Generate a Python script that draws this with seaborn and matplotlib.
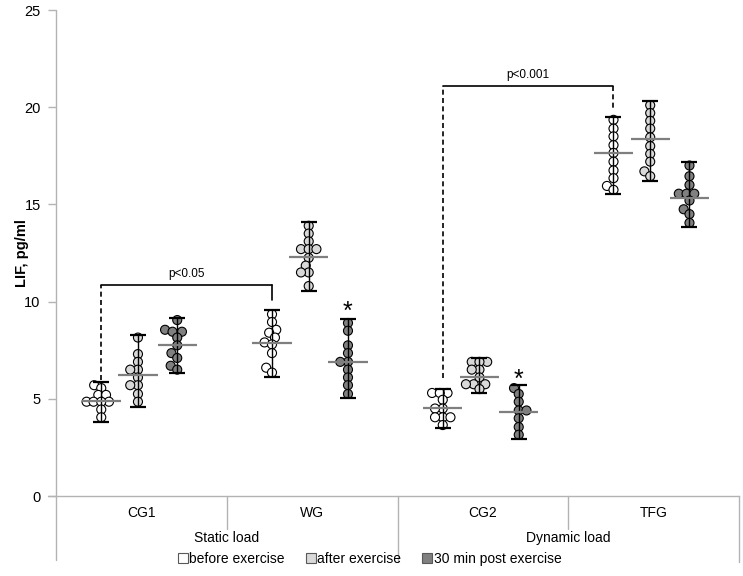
import matplotlib
matplotlib.use('Agg')
import matplotlib.pyplot as plt
import matplotlib.transforms as mtransforms
from matplotlib.lines import Line2D
import pandas as pd
import seaborn as sns

groups = ['CG1', 'WG', 'CG2', 'TFG']
loads = ['Static load', 'Dynamic load']
phases = ['before exercise', 'after exercise', '30 min post exercise']

# individual values (pg/ml)
cg1_before = [5.7, 5.55, 5.2, 5.2, 4.85, 4.85, 4.85, 4.85, 4.45, 4.05]
cg1_after = [8.15, 7.3, 6.9, 6.5, 6.5, 6.1, 5.7, 5.7, 5.25, 4.85]
cg1_post = [9.05, 8.55, 8.45, 8.45, 8.15, 7.75, 7.35, 7.1, 6.7, 6.5]
wg_before = [9.35, 8.95, 8.55, 8.4, 8.15, 7.9, 7.8, 7.35, 6.6, 6.35]
wg_after = [13.9, 13.5, 13.1, 12.7, 12.7, 12.7, 12.25, 11.85, 11.5, 11.5, 10.8]
wg_post = [8.9, 8.5, 7.75, 7.35, 6.9, 6.9, 6.5, 6.1, 5.7, 5.25]
cg2_before = [5.3, 5.3, 5.3, 4.95, 4.5, 4.5, 4.05, 4.05, 4.05, 3.65]
cg2_after = [6.9, 6.9, 6.9, 6.5, 6.5, 6.1, 5.75, 5.75, 5.75, 5.5]
cg2_post = [5.55, 5.25, 4.85, 4.4, 4.4, 4.0, 3.55, 3.15]
tfg_before = [19.35, 18.9, 18.5, 18.05, 17.65, 17.2, 16.75, 16.35, 15.95, 15.75]
tfg_after = [20.1, 19.7, 19.3, 18.9, 18.45, 18.0, 17.6, 17.2, 16.7, 16.45]
tfg_post = [17.0, 16.45, 16.0, 15.55, 15.55, 15.55, 15.2, 14.75, 14.5, 14.05]

# group means and whisker limits (before, after, 30 min post)
cg1_mean = [4.9, 6.2, 7.77]
wg_mean = [7.85, 12.28, 6.91]
cg2_mean = [4.54, 6.14, 4.34]
tfg_mean = [17.66, 18.38, 15.31]
cg1_low = [3.82, 4.56, 6.31]
wg_low = [6.1, 10.55, 5.06]
cg2_low = [3.48, 5.28, 2.91]
tfg_low = [15.53, 16.2, 13.85]
cg1_high = [5.88, 8.3, 9.15]
wg_high = [9.57, 14.08, 9.09]
cg2_high = [5.5, 7.08, 5.71]
tfg_high = [19.51, 20.33, 17.16]

values = {
    'CG1': [cg1_before, cg1_after, cg1_post],
    'WG': [wg_before, wg_after, wg_post],
    'CG2': [cg2_before, cg2_after, cg2_post],
    'TFG': [tfg_before, tfg_after, tfg_post],
}
means = {'CG1': cg1_mean, 'WG': wg_mean, 'CG2': cg2_mean, 'TFG': tfg_mean}
lows = {'CG1': cg1_low, 'WG': wg_low, 'CG2': cg2_low, 'TFG': tfg_low}
highs = {'CG1': cg1_high, 'WG': wg_high, 'CG2': cg2_high, 'TFG': tfg_high}

sns.set_theme(style='white')
plt.rcParams['font.family'] = ['Liberation Sans', 'DejaVu Sans']
plt.rcParams['text.color'] = 'black'
plt.rcParams['axes.labelcolor'] = 'black'
plt.rcParams['ytick.labelcolor'] = 'black'

GRAY = '#b3b3b3'
phase_offset = [-0.235, -0.02, 0.21]
palette = {'before exercise': '#ffffff', 'after exercise': '#d9d9d9',
           '30 min post exercise': '#808080'}

fig = plt.figure(figsize=(7.43, 5.76), dpi=100)
ax = fig.add_axes([56 / 743, 1 - 496 / 576, 683 / 743, 486 / 576])

rows = []
for gi, g in enumerate(groups):
    for pi, p in enumerate(phases):
        for v in values[g][pi]:
            rows.append({'group': g, 'phase': p, 'pos': gi + phase_offset[pi], 'LIF': v})
df = pd.DataFrame(rows)

sns.swarmplot(data=df, x='pos', y='LIF', hue='phase', palette=palette,
              native_scale=True, size=4.5, edgecolor='black', linewidth=0.8,
              legend=False, ax=ax, warn_thresh=1, zorder=3)
ax.set_xlim(-0.5, 3.5)
ax.set_ylim(0, 25)
# lay out the swarm with compact spacing, then freeze it and enlarge markers
fig.canvas.draw()
for coll in list(ax.collections):
    if 'draw' in coll.__dict__:
        del coll.draw
    coll.set_sizes([6.5 ** 2])

for gi, g in enumerate(groups):
    for pi in range(3):
        x = gi + phase_offset[pi]
        m, lo, hi = means[g][pi], lows[g][pi], highs[g][pi]
        ax.errorbar([x], [m], yerr=[[m - lo], [hi - m]], fmt='none', ecolor='black',
                    elinewidth=1.0, capsize=5.8, capthick=1.6, zorder=4)
        ax.hlines(m, x - 0.115, x + 0.115, color='#7f7f7f', lw=1.6, zorder=5)

ax.set_xlim(-0.5, 3.5)
ax.set_ylim(0, 25)
ax.set_xticks([])
ax.set_xlabel('')
ax.set_yticks(range(0, 26, 5))
ax.set_ylabel('LIF, pg/ml', fontweight='bold', fontsize=10.5)
ax.yaxis.set_label_coords(-0.04, 0.5)
for s in ['top', 'right', 'left']:
    ax.spines[s].set_visible(False)
ax.spines['bottom'].set_color(GRAY)
ax.spines['bottom'].set_linewidth(1.0)
ax.tick_params(axis='y', direction='out', length=6, width=1.0, color=GRAY,
               labelsize=10.5, pad=5, left=True, labelcolor='black')

# y axis line extending into category area
ax.plot([0, 0], [1, -0.132], transform=ax.transAxes, color=GRAY, lw=1.0, clip_on=False)
ax.plot([-0.012, 0], [0, 0], transform=ax.transAxes, color=GRAY, lw=1.0, clip_on=False)

trans = mtransforms.blended_transform_factory(ax.transData, ax.transAxes)
for xs in [0.5, 2.5]:
    ax.plot([xs, xs], [0, -0.068], transform=trans, color=GRAY, lw=1.0, clip_on=False)
for xs in [1.5, 3.5]:
    ax.plot([xs, xs], [0, -0.136], transform=trans, color=GRAY, lw=1.0, clip_on=False)
for gi, g in enumerate(groups):
    ax.text(gi, -0.036, g, transform=trans, ha='center', va='center', fontsize=10)
for li, l in enumerate(loads):
    ax.text(0.5 + 2 * li, -0.087, l, transform=trans, ha='center', va='center', fontsize=10)

# significance brackets
x1 = 0 + phase_offset[0]
x2 = 1 + phase_offset[0]
ax.plot([x1, x1], [5.95, 10.85], ls=(0, (3, 2)), color='black', lw=1.2)
ax.plot([x1, x2], [10.85, 10.85], color='black', lw=1.2)
ax.plot([x2, x2], [10.85, 10.1], color='black', lw=1.2)
ax.text((x1 + x2) / 2, 11.1, 'p<0.05', ha='center', va='bottom', fontsize=8.5)

x3 = 2 + phase_offset[0]
x4 = 3 + phase_offset[0]
ax.plot([x3, x3], [6.05, 21.1], ls=(0, (3, 2)), color='black', lw=1.2)
ax.plot([x3, x4], [21.1, 21.1], color='black', lw=1.2)
ax.plot([x4, x4], [21.1, 19.85], ls=(0, (3, 2)), color='black', lw=1.2)
ax.text((x3 + x4) / 2, 21.35, 'p<0.001', ha='center', va='bottom', fontsize=8.5)

# asterisks
ax.text(1 + phase_offset[2], 9.45, '*', ha='center', va='center', fontsize=18)
ax.text(2 + phase_offset[2], 6.0, '*', ha='center', va='center', fontsize=18)

handles = [Line2D([], [], marker='s', linestyle='none', markersize=6.5,
                  markerfacecolor=palette[p], markeredgecolor='#595959',
                  markeredgewidth=0.8) for p in phases]
fig.legend(handles, phases, loc='center', bbox_to_anchor=(0.498, 1 - 559 / 576),
           ncol=3, frameon=False, fontsize=10, handlelength=0.6,
           handletextpad=0.15, columnspacing=1.6, borderpad=0)

fig.savefig('out.png', dpi=100)
